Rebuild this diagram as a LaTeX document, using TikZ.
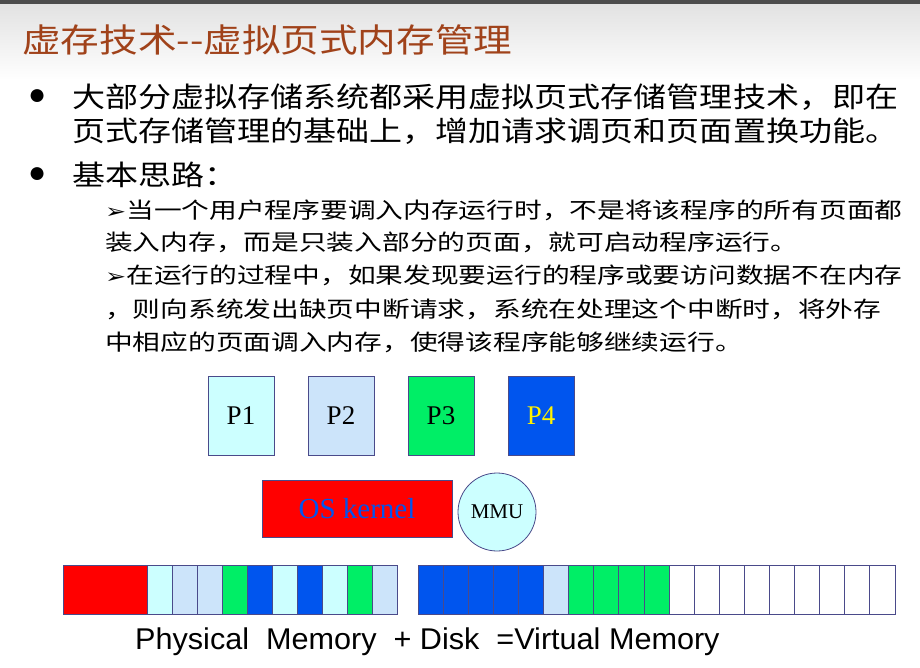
\documentclass[tikz,border=0pt]{standalone}
\usepackage{fontspec}
\usepackage{graphicx}
\setmainfont{Liberation Serif}
\newfontfamily\cjk{Noto Sans CJK SC}
\newfontfamily\arial{Liberation Sans}
\newfontfamily\dejavu{DejaVu Sans}
\definecolor{lc}{HTML}{CCFFFF}
\definecolor{lb}{HTML}{CCE4FA}
\definecolor{gr}{HTML}{00EE66}
\definecolor{bl}{HTML}{0055EE}
\definecolor{ttl}{HTML}{A0421A}
\definecolor{edge}{HTML}{4A4A8A}
\begin{document}
\begin{tikzpicture}[x=1pt,y=-1pt,
  pbox/.style={draw=edge,line width=0.8pt,minimum width=66pt,minimum height=79pt,inner sep=0pt,font=\fontsize{27}{27}\selectfont},
  cell/.style={draw=edge,line width=0.8pt},
  tx/.style={anchor=west,inner sep=0pt},
  big/.style={tx,font=\cjk\fontsize{28}{28}\selectfont},
  small/.style={tx,font=\cjk\fontsize{22}{22}\selectfont}]
\useasboundingbox (0,0) rectangle (920,667);
\shade[top color=black!12,bottom color=white] (0,0) rectangle (920,80);
\fill[black!70] (0,0) rectangle (920,4);
\node[tx,font=\cjk\fontsize{33}{33}\selectfont,text=ttl] (title) at (22,40) {\scalebox{1.17}[1]{虚存技术--虚拟页式内存管理}};
\node[tx,font=\fontsize{30}{30}\selectfont] (b1) at (28,97) {●};
\node[big] (l1) at (72,97) {\scalebox{1.18}[1]{大部分虚拟存储系统都采用虚拟页式存储管理技术，即在}};
\node[big] (l2) at (72,131) {\scalebox{1.18}[1]{页式存储管理的基础上，增加请求调页和页面置换功能。}};
\node[tx,font=\fontsize{30}{30}\selectfont] (b2) at (28,175) {●};
\node[big] (l3) at (72,175) {\scalebox{1.18}[1]{基本思路：}};
\node[small] (s1) at (105,210) {\scalebox{1.26}[1]{{\dejavu\fontsize{20}{20}\selectfont ➢}当一个用户程序要调入内存运行时，不是将该程序的所有页面都}};
\node[small] (s2) at (105,242) {\scalebox{1.26}[1]{装入内存，而是只装入部分的页面，就可启动程序运行。}};
\node[small] (s3) at (105,275) {\scalebox{1.26}[1]{{\dejavu\fontsize{20}{20}\selectfont ➢}在运行的过程中，如果发现要运行的程序或要访问数据不在内存}};
\node[small] (s4) at (105,309) {\scalebox{1.26}[1]{，则向系统发出缺页中断请求，系统在处理这个中断时，将外存}};
\node[small] (s5) at (105,342) {\scalebox{1.26}[1]{中相应的页面调入内存，使得该程序能够继续运行。}};
\node[pbox,fill=lc] (p1) at (241,415.5) {P1};
\node[pbox,fill=lb] (p2) at (341,415.5) {P2};
\node[pbox,fill=gr] (p3) at (441,415.5) {P3};
\node[pbox,fill=bl,text=yellow] (p4) at (541,415.5) {P4};
\node[draw=edge,line width=0.8pt,fill=red,minimum width=190pt,minimum height=57pt,inner sep=0pt,font=\fontsize{29}{29}\selectfont,text=bl] (os) at (357,508.5) {OS kernel};
\node[circle,draw=edge,line width=0.8pt,fill=lc,minimum size=78pt,inner sep=0pt,font=\fontsize{21}{21}\selectfont] (mmu) at (497,512) {MMU};
\fill[red] (63,565) rectangle (147,614);
\foreach \c [count=\i from 0] in {lc,lb,lb,gr,bl,lc,bl,lc,gr,lb}
  \draw[cell,fill=\c] (147+25*\i,565) rectangle (172+25*\i,614);
\draw[cell] (63,565) rectangle (397,614);
\foreach \c [count=\i from 0] in {bl,bl,bl,bl,bl,lb,gr,gr,gr,gr,white,white,white,white,white,white,white,white,white}
  \draw[cell,fill=\c] (418+25.1*\i,565) rectangle (443.1+25.1*\i,614);
\node[tx,font=\arial\fontsize{30}{30}\selectfont] (cap) at (135,642) {\scalebox{1.02}[1]{Physical\ \ Memory\ \ + Disk\ \ =Virtual Memory}};
\end{tikzpicture}
\end{document}
